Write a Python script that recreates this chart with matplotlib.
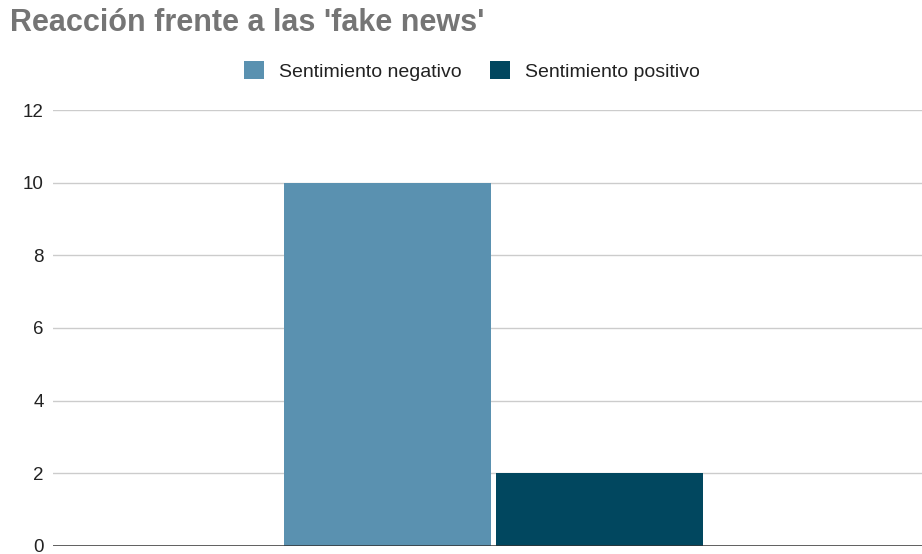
import matplotlib
matplotlib.use("Agg")
import matplotlib.pyplot as plt
from matplotlib.patches import Patch

plt.rcParams['font.family'] = ['Liberation Sans', 'DejaVu Sans']

title = "Reacción frente a las 'fake news'"
series = ["Sentimiento negativo", "Sentimiento positivo"]
values = [10, 2]
colors = ["#5a91b0", "#01475f"]
yticks = [0, 2, 4, 6, 8, 10, 12]

W, H = 922, 554
fig = plt.figure(figsize=(W / 100, H / 100), dpi=100)
ax = fig.add_axes([53 / W, 1 - 546 / H, 1 - 53 / W, (546 - 110) / H])

positions = [-0.5, 0.5]
for pos, val, col in zip(positions, values, colors):
    ax.bar(pos, val, width=0.98, color=col, zorder=3)

ax.set_xlim(-2.085, 2.028)
ax.set_ylim(0, 12)
ax.set_yticks(yticks)
ax.set_yticklabels([str(t) for t in yticks], fontsize=13.5, color="#222222")
ax.tick_params(axis='y', length=0, pad=6.5)
ax.set_xticks([])
ax.grid(axis='y', color="#cccccc", linewidth=1, zorder=0)
for s in ax.spines.values():
    s.set_visible(False)
ax.axhline(0, color="#333333", linewidth=1.8, zorder=4)

fig.text(10 / W, 1 - 23 / H, title, fontsize=22, fontweight='bold',
         color="#757575", ha='left', va='center')

handles = [Patch(facecolor=c, edgecolor='none') for c in colors]
fig.legend(handles, series, loc='center', bbox_to_anchor=(472 / W, 1 - 71 / H),
           ncol=2, frameon=False, fontsize=14, handlelength=1.03, handleheight=1.03,
           columnspacing=1.44, handletextpad=0.77, labelcolor="#222222")

fig.savefig("out.png", dpi=100, facecolor="white")
